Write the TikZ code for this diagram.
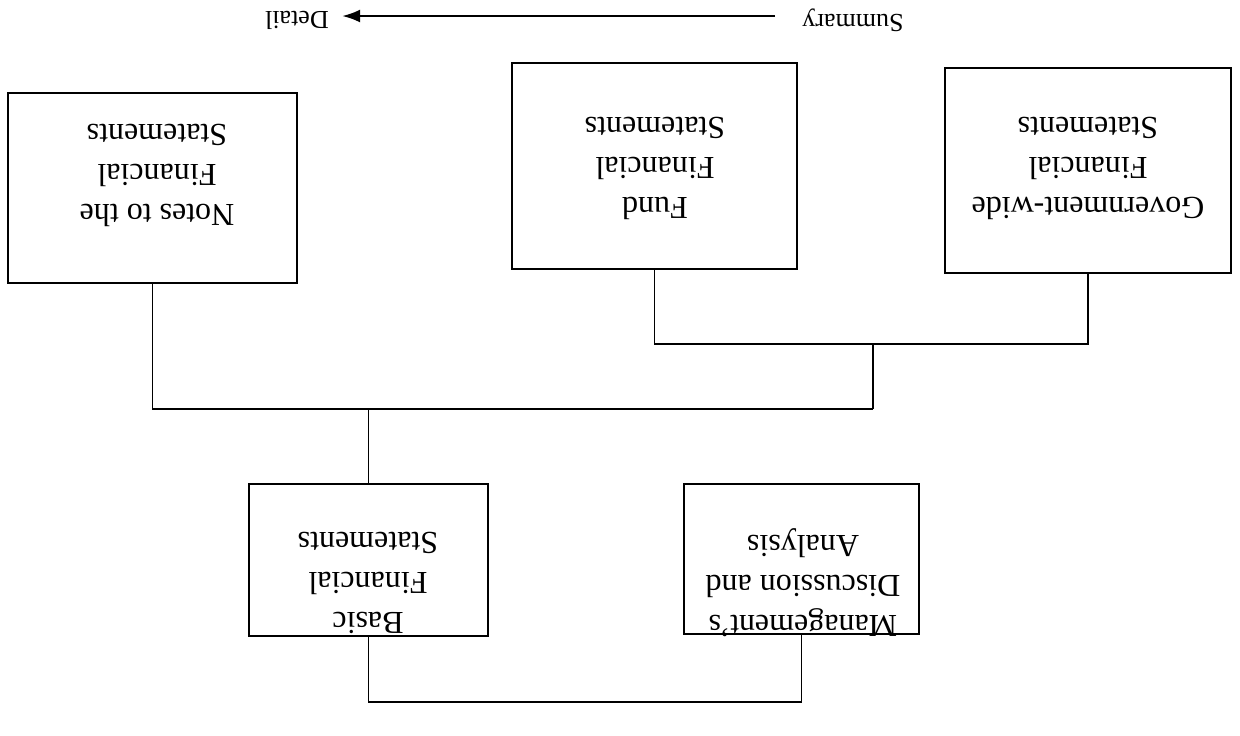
\documentclass[tikz,border=0pt]{standalone}
\usepackage{fontspec}
\setmainfont{Liberation Serif}
\usetikzlibrary{arrows.meta}
\begin{document}
\begin{tikzpicture}[x=0.5pt,y=-0.5pt,
  box/.style={draw,line width=1.1pt,rectangle,inner sep=0pt},
  lbl/.style={rotate=180,align=center,font=\fontsize{16}{20}\selectfont,inner sep=0pt},
  toplbl/.style={rotate=180,font=\fontsize{13}{15}\selectfont,inner sep=0pt},
  conn/.style={line width=0.8pt}]
\useasboundingbox[fill=white] (0,0) rectangle (1240,735);
% boxes
\node[box,minimum width=144.5pt,minimum height=95pt] (notes) at (152.5,188) {};
\node[box,minimum width=142.5pt,minimum height=103pt] (fund) at (654.5,166) {};
\node[box,minimum width=143pt,minimum height=102.5pt] (govt) at (1088,170.5) {};
\node[box,minimum width=119.5pt,minimum height=76pt] (basic) at (368.5,560) {};
\node[box,minimum width=117.5pt,minimum height=75pt] (mda) at (801.5,559) {};
% texts
\node[lbl] (notest) at (157,175) {Notes to the\\Financial\\Statements};
\node[lbl] (fundt) at (655,168) {Fund\\Financial\\Statements};
\node[lbl] (govtt) at (1088,168) {Government-wide\\Financial\\Statements};
\node[lbl] (basict) at (368,583) {Basic\\Financial\\Statements};
\node[lbl] (mdat) at (803,583) {Management's\\Discussion and\\Analysis};
% connectors
\coordinate (j1) at (873,344);
\coordinate (j2) at (873,409);
\coordinate (j3) at (368.5,409);
\draw[conn] (fund.south) |- (j1) -| (govt.south);
\draw[conn] (j1) -- (j2);
\draw[conn] (notes.south) |- (j2);
\draw[conn] (j3) -- (basic.north);
\draw[conn] (basic.south) -- ++(0,65) -| (mda.south);
% summary -> detail
\node[toplbl] (sum) at (853,20) {Summary};
\node[toplbl] (det) at (297,20) {Detail};
\coordinate (a0) at ([xshift=-13.5pt,yshift=2pt]sum.east);
\coordinate (a1) at ([xshift=6.5pt,yshift=2pt]det.west);
\draw[line width=1.1pt,-{Latex[length=9pt,width=6.5pt]}] (a0) -- (a1);
\end{tikzpicture}
\end{document}
